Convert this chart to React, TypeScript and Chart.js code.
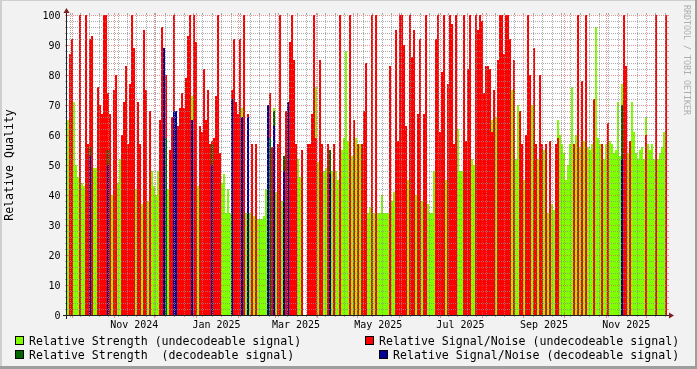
import React, { useEffect, useRef } from "react";
import { Chart, registerables } from "chart.js";

Chart.register(...registerables);

const DAY_MS = 86400000;
const SERIES_START = Date.UTC(2024, 8, 27, 3, 0, 0);
const STEP_MS = 1.4837 * DAY_MS;

// Relative Strength (undecodeable signal), one value per sample
const strengthUndecodeable = [
  65, 54, 56, 71, 50, 46, 43, 44, 43, 44,
  0, 0, 0, 49, 49, 0, 0, 0, 0, 0,
  0, 0, 40, 34, 0, 44, 52, 0, 0, 0,
  0, 0, 48, 0, 42, 0, 0, 37, 45, 0,
  38, 0, 48, 43, 40, 48, 0, 0, 0, 0,
  42, 43, 0, 0, 0, 44, 0, 0, 0, 0,
  0, 0, 73, 0, 0, 43, 43, 0, 0, 0,
  0, 0, 0, 51, 0, 0, 0, 44, 47, 34,
  42, 34, 0, 0, 0, 0, 0, 69, 0, 34,
  0, 34, 0, 33, 0, 32, 32, 32, 33, 42,
  0, 52, 0, 69, 41, 0, 0, 38, 0, 0,
  0, 0, 0, 0, 0, 52, 46, 0, 0, 0,
  0, 0, 0, 0, 76, 51, 0, 0, 48, 49,
  0, 0, 48, 0, 48, 45, 0, 55, 59, 88,
  58, 0, 53, 0, 59, 0, 57, 0, 0, 0,
  34, 36, 0, 34, 0, 34, 34, 40, 34, 34,
  34, 0, 38, 41, 0, 48, 0, 0, 0, 0,
  45, 0, 0, 0, 40, 0, 0, 38, 0, 0,
  37, 34, 34, 48, 0, 0, 0, 0, 0, 45,
  0, 0, 0, 0, 0, 62, 48, 48, 0, 0,
  0, 0, 52, 50, 0, 0, 0, 0, 0, 0,
  0, 0, 65, 0, 66, 0, 0, 0, 0, 0,
  0, 0, 75, 0, 52, 70, 0, 0, 45, 0,
  0, 0, 70, 0, 0, 52, 0, 0, 55, 0,
  34, 0, 37, 35, 0, 65, 60, 57, 54, 45,
  50, 57, 76, 0, 60, 0, 56, 0, 58, 0,
  56, 55, 57, 0, 96, 59, 57, 0, 52, 57,
  0, 58, 57, 54, 55, 71, 53, 77, 0, 0,
  54, 0, 71, 61, 54, 52, 55, 56, 52, 66,
  57, 55, 57, 52, 0, 52, 54, 56, 61, 0,
];

// Relative Signal/Noise (undecodeable signal)
const snrUndecodeable = [
  0, 87, 92, 0, 0, 0, 100, 0, 0, 100,
  57, 92, 93, 0, 0, 76, 70, 67, 100, 100,
  74, 67, 0, 75, 80, 0, 0, 60, 71, 83,
  57, 77, 100, 89, 0, 71, 57, 0, 95, 75,
  0, 68, 0, 0, 0, 0, 65, 96, 0, 80,
  0, 55, 66, 100, 57, 63, 69, 74, 69, 79,
  93, 100, 0, 100, 91, 0, 63, 61, 82, 65,
  75, 57, 58, 59, 73, 100, 54, 0, 0, 0,
  0, 0, 75, 92, 71, 67, 92, 0, 100, 0,
  67, 0, 57, 0, 57, 0, 0, 0, 0, 0,
  67, 74, 56, 0, 0, 57, 100, 0, 0, 68,
  0, 91, 100, 85, 57, 0, 0, 55, 0, 0,
  57, 57, 67, 100, 59, 0, 85, 57, 0, 0,
  57, 0, 0, 57, 0, 0, 100, 0, 0, 0,
  0, 100, 0, 65, 0, 57, 0, 57, 68, 84,
  0, 0, 100, 0, 100, 0, 0, 0, 0, 0,
  0, 83, 0, 0, 95, 58, 100, 100, 90, 63,
  0, 100, 86, 95, 0, 67, 92, 0, 67, 100,
  0, 0, 0, 0, 92, 100, 61, 81, 100, 0,
  77, 100, 97, 57, 100, 0, 0, 0, 100, 58,
  82, 100, 0, 0, 100, 95, 100, 98, 74, 83,
  83, 82, 61, 75, 0, 85, 100, 100, 87, 100,
  100, 92, 0, 85, 0, 0, 68, 57, 0, 60,
  100, 80, 0, 89, 57, 0, 80, 57, 0, 57,
  0, 58, 0, 0, 57, 59, 0, 0, 0, 0,
  0, 0, 0, 57, 0, 100, 0, 78, 0, 100,
  0, 0, 0, 72, 0, 0, 0, 57, 0, 0,
  64, 0, 0, 0, 0, 0, 0, 0, 100, 83,
  0, 58, 0, 0, 0, 0, 0, 0, 0, 60,
  0, 0, 0, 0, 100, 0, 0, 0, 0, 100,
];

// decodeable samples (sample index, strength, signal/noise)
const decodeableSamples = [11, 20, 48, 49, 53, 54, 62, 72, 82, 87, 90, 100, 101, 103, 108, 110, 131, 277];
const strengthDecodeable = [56, 55, 0, 59, 0, 0, 0, 57, 0, 0, 0, 0, 59, 68, 53, 0, 55, 70];
const snrDecodeable = [53, 50, 89, 0, 68, 68, 65, 50, 72, 66, 66, 70, 0, 63, 48, 71, 47, 52];

const yTickValues = [0, 10, 20, 30, 40, 50, 60, 70, 80, 90, 100];
const xTickLabels = ["Nov 2024", "Jan 2025", "Mar 2025", "May 2025", "Jul 2025", "Sep 2025", "Nov 2025"];
const xTickMonths = [[2024, 10], [2025, 0], [2025, 2], [2025, 4], [2025, 6], [2025, 8], [2025, 10]];

const seriesLabels = [
  "Relative Strength (undecodeable signal)",
  "Relative Signal/Noise (undecodeable signal)",
  "Relative Strength  (decodeable signal)",
  "Relative Signal/Noise (decodeable signal)",
];
const seriesColors = ["#80FF00", "#FF0000", "#006600", "#000099"];

const MONO = '"DejaVu Sans Mono", "Liberation Mono", monospace';
const GRID = "rgba(143,143,143,0.75)";
const MGRID = "rgba(222,79,79,0.6)";

const rrdPlugin = {
  id: "rrdLook",
  beforeDraw(chart: any) {
    const { ctx, width, height, chartArea: a } = chart;
    ctx.save();
    ctx.fillStyle = "#F2F2F2";
    ctx.fillRect(0, 0, width, height);
    ctx.fillStyle = "#CFCFCF";
    ctx.fillRect(0, 0, width, 1);
    ctx.fillRect(0, 0, 2, height);
    ctx.fillStyle = "#9E9E9E";
    ctx.fillRect(0, height - 3, width, 3);
    ctx.fillRect(width - 2, 0, 2, height);
    ctx.fillStyle = "#FFFFFF";
    ctx.fillRect(a.left, a.top, a.right - a.left, a.bottom - a.top);
    ctx.restore();
  },
  afterDatasetsDraw(chart: any) {
    const { ctx, chartArea: a, scales } = chart;
    const xs = scales.x;
    const ys = scales.y;
    const L = a.left, R = a.right, T = a.top, B = a.bottom;
    const N = strengthUndecodeable.length;
    const endT = SERIES_START + N * STEP_MS;
    ctx.save();
    ctx.lineWidth = 1;

    const line = (x1: number, y1: number, x2: number, y2: number, color: string, dashed: boolean) => {
      ctx.strokeStyle = color;
      ctx.setLineDash(dashed ? [1, 1] : []);
      ctx.beginPath();
      ctx.moveTo(x1, y1);
      ctx.lineTo(x2, y2);
      ctx.stroke();
    };

    // horizontal grid
    for (let v = 2; v <= 100; v += 2) {
      const y = Math.round(ys.getPixelForValue(v)) + 0.5;
      const major = v % 10 === 0;
      const c = major ? MGRID : GRID;
      line(L, y, R, y, c, true);
      if (major) {
        line(L - 2, y, L + 2, y, c, false);
        line(R - 2, y, R + 2, y, c, false);
      } else {
        line(L - 2, y, L, y, c, false);
        line(R, y, R + 2, y, c, false);
      }
    }

    // vertical minor grid (weekly)
    for (let t = Date.UTC(2024, 8, 30); t <= endT; t += 7 * DAY_MS) {
      if (t < SERIES_START || new Date(t).getUTCDate() === 1) continue;
      const x = Math.floor(xs.getPixelForValue(t)) + 0.5;
      line(x, B, x, T, GRID, true);
      line(x, T - 2, x, T, GRID, false);
      line(x, B, x, B + 2, GRID, false);
    }
    // vertical major grid (monthly)
    let yy = 2024, mm = 9;
    while (true) {
      const t = Date.UTC(yy, mm, 1);
      if (t > endT) break;
      if (t >= SERIES_START) {
        const x = Math.floor(xs.getPixelForValue(t)) + 0.5;
        line(x, B, x, T, MGRID, true);
        line(x, T - 2, x, T, MGRID, false);
        line(x, B - 2, x, B + 3, MGRID, false);
      }
      mm++;
      if (mm > 11) { mm = 0; yy++; }
    }

    // axes
    const ax = L - 0.5;
    const ay = B + 0.5;
    line(L - 4, ay, R + 4, ay, "#1F1F1F", false);
    line(ax, B + 4, ax, T - 4, "#1F1F1F", false);
    ctx.setLineDash([]);
    ctx.fillStyle = "#801F1F";
    ctx.beginPath();
    ctx.moveTo(R + 2, ay - 3);
    ctx.lineTo(R + 2, ay + 3);
    ctx.lineTo(R + 7, ay);
    ctx.closePath();
    ctx.fill();
    ctx.beginPath();
    ctx.moveTo(ax - 3, T - 2);
    ctx.lineTo(ax + 3, T - 2);
    ctx.lineTo(ax, T - 7);
    ctx.closePath();
    ctx.fill();

    // y labels
    ctx.fillStyle = "#000000";
    ctx.font = `10px ${MONO}`;
    ctx.textAlign = "right";
    ctx.textBaseline = "alphabetic";
    yTickValues.forEach((v) => {
      const y = Math.round(ys.getPixelForValue(v));
      ctx.fillText(String(v), L - 6.5, y + 4);
    });

    // x labels (centred half a month after the month start)
    ctx.textAlign = "center";
    xTickLabels.forEach((lab, k) => {
      const [y, m] = xTickMonths[k];
      const t = Date.UTC(y, m, 1) + 15 * DAY_MS;
      ctx.fillText(lab, xs.getPixelForValue(t), B + 12.5);
    });

    // y title
    ctx.save();
    ctx.font = `11.6px ${MONO}`;
    ctx.translate(13, (T + B) / 2);
    ctx.rotate(-Math.PI / 2);
    ctx.textAlign = "center";
    ctx.fillText("Relative Quality", 0, 0);
    ctx.restore();

    // watermark
    ctx.save();
    ctx.font = `8.3px ${MONO}`;
    ctx.fillStyle = "#ADADAD";
    ctx.translate(684, 5);
    ctx.rotate(Math.PI / 2);
    ctx.textAlign = "left";
    ctx.fillText("RRDTOOL / TOBI OETIKER", 0, 0);
    ctx.restore();

    // legend
    ctx.font = `11.6px ${MONO}`;
    ctx.textAlign = "left";
    const rows = [345, 359];
    const rightEdge = 679;
    seriesLabels.forEach((lab, k) => {
      const row = Math.floor(k / 2);
      const col = k % 2;
      const baseY = rows[row];
      let textX: number;
      if (col === 0) {
        textX = 29;
      } else {
        textX = Math.round(rightEdge - ctx.measureText(lab).width);
      }
      const bx = textX - 14;
      const by = baseY - 9;
      ctx.fillStyle = seriesColors[k];
      ctx.fillRect(bx, by, 9, 9);
      ctx.strokeStyle = "#000000";
      ctx.setLineDash([]);
      ctx.strokeRect(bx + 0.5, by + 0.5, 8, 8);
      ctx.fillStyle = "#000000";
      ctx.fillText(lab, textX, baseY);
    });

    ctx.restore();
  },
};

export default function App() {
  const ref = useRef<HTMLCanvasElement | null>(null);

  useEffect(() => {
    document.body.style.margin = "0";
    const canvas = ref.current;
    if (!canvas) return;
    const N = strengthUndecodeable.length;
    const times = strengthUndecodeable.map((_, i) => SERIES_START + (i + 0.5) * STEP_MS);
    const expand = (vals: number[]) => {
      const arr = new Array(N).fill(0);
      decodeableSamples.forEach((s, k) => { arr[s] = vals[k]; });
      return arr;
    };
    const toPoints = (vals: number[]) => vals.map((v, i) => ({ x: times[i], y: v > 0 ? v : null }));
    const seriesValues = [
      strengthUndecodeable,
      snrUndecodeable,
      expand(strengthDecodeable),
      expand(snrDecodeable),
    ];
    const drawOrder = [4, 3, 2, 1];
    const datasets = seriesValues.map((vals, k) => ({
      label: seriesLabels[k],
      data: toPoints(vals),
      backgroundColor: seriesColors[k],
      borderWidth: 0,
      grouped: false,
      barPercentage: 1,
      categoryPercentage: 1,
      inflateAmount: 0,
      order: drawOrder[k],
    }));

    const chart = new Chart(canvas, {
      type: "bar",
      data: { datasets } as any,
      options: {
        animation: false,
        responsive: false,
        maintainAspectRatio: false,
        devicePixelRatio: 1,
        layout: { padding: { left: 67, top: 15, right: 30, bottom: 54 } },
        plugins: {
          legend: { display: false },
          tooltip: { enabled: false },
          title: { display: false },
        },
        scales: {
          x: {
            type: "linear",
            min: SERIES_START,
            max: SERIES_START + N * STEP_MS,
            offset: false,
            display: false,
          },
          y: {
            type: "linear",
            min: 0,
            max: 100,
            display: false,
          },
        },
      } as any,
      plugins: [rrdPlugin],
    });
    return () => chart.destroy();
  }, []);

  return (
    <div style={{ position: "absolute", left: 0, top: 0, width: 697, height: 369 }}>
      <canvas ref={ref} width={697} height={369} style={{ display: "block", width: 697, height: 369 }} />
    </div>
  );
}
